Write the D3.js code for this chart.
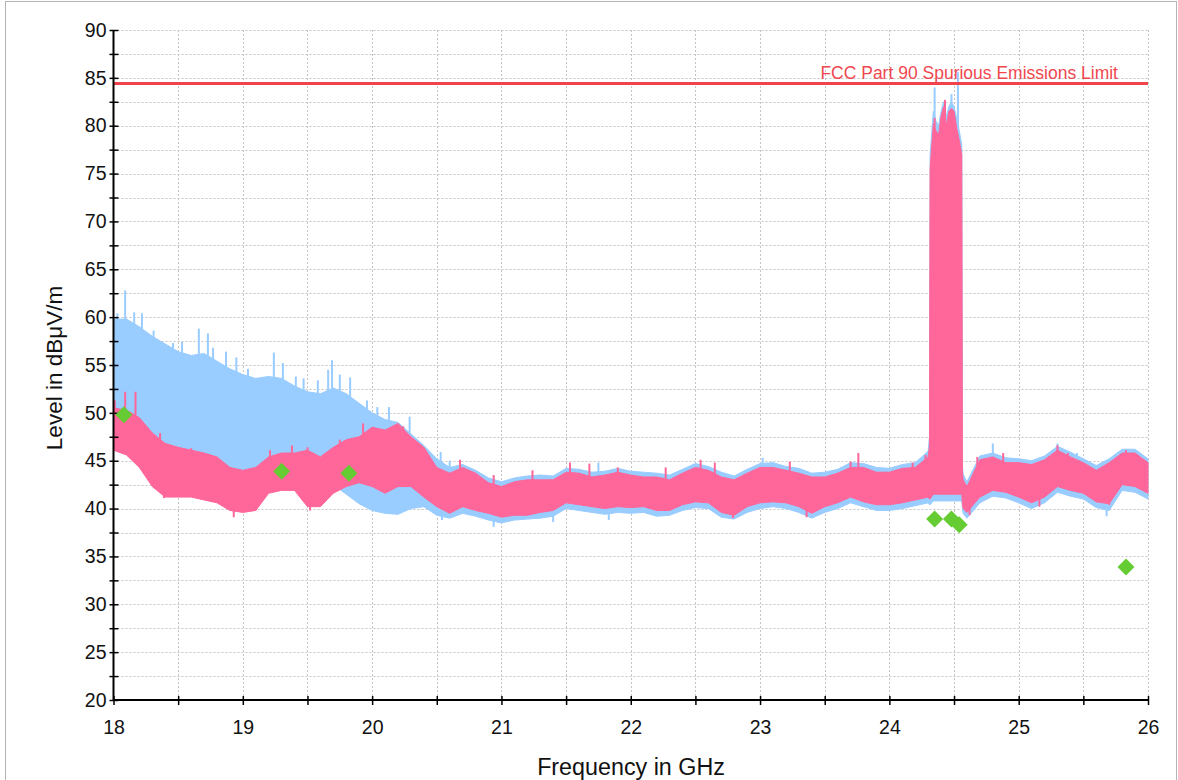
<!DOCTYPE html>
<html>
<head>
<meta charset="utf-8">
<script src="https://cdn.jsdelivr.net/npm/d3@7"></script>
<style>
  html, body { margin: 0; padding: 0; background: #fff; }
  svg { display: block; font-family: "Liberation Sans", Arial, sans-serif; }
</style>
</head>
<body>
<svg id="chart" width="1178" height="780"></svg>
<script>
// Scan frequencies (GHz); finer steps across the 24.3–24.6 GHz emission block
const freqs = [
  18.0, 18.1, 18.2, 18.3, 18.4, 18.5, 18.6, 18.7, 18.8, 18.9,
  19.0, 19.1, 19.2, 19.3, 19.4, 19.5, 19.6, 19.7, 19.8, 19.9,
  20.0, 20.1, 20.2, 20.3, 20.4, 20.5, 20.6, 20.7, 20.8, 20.9,
  21.0, 21.1, 21.2, 21.3, 21.4, 21.5, 21.6, 21.7, 21.8, 21.9,
  22.0, 22.1, 22.2, 22.3, 22.4, 22.5, 22.6, 22.7, 22.8, 22.9,
  23.0, 23.1, 23.2, 23.3, 23.4, 23.5, 23.6, 23.7, 23.8, 23.9,
  24.0, 24.1, 24.2, 24.3, 24.31, 24.315,
  24.34, 24.36, 24.38, 24.40, 24.42, 24.44, 24.46, 24.48, 24.50, 24.52, 24.54, 24.56,
  24.565, 24.57, 24.6, 24.7, 24.8, 24.9,
  25.0, 25.1, 25.2, 25.3, 25.4, 25.5, 25.6, 25.7, 25.8, 25.9,
  26.0
];

// Horizontal polarisation trace: lower / upper envelope (dBµV/m)
const horizHi = [
  59.8, 59.8, 59.0, 58.0, 57.2, 56.4, 56.0, 56.2, 55.4, 54.6,
  54.0, 53.6, 53.8, 53.6, 52.8, 52.2, 52.0, 52.6, 52.0, 51.0,
  50.0, 49.3, 49.0, 47.8, 46.6, 45.2, 44.3, 44.6, 44.0, 43.2,
  42.8, 43.2, 43.4, 43.5, 43.4, 44.2, 44.1, 43.8, 43.9, 44.2,
  43.9, 43.8, 43.7, 43.5, 44.1, 44.7, 44.4, 43.8, 43.4, 44.1,
  44.7, 44.8, 44.4, 44.2, 43.7, 43.8, 44.1, 44.8, 44.7, 44.3,
  44.2, 44.6, 44.8, 46.0, 47.5, 77.0,
  81.5, 80.5, 80.0, 81.5, 82.5, 81.0, 82.0, 82.5, 82.0, 80.8, 79.5, 78.0,
  44.5, 43.6, 42.8, 45.5, 45.8, 45.3,
  45.2, 45.0, 45.5, 46.5, 45.9, 45.2, 44.5, 45.2, 46.2, 46.2,
  45.2
];
const horizLo = [
  49.0, 48.0, 47.0, 46.0, 45.0, 44.5, 44.2, 44.0, 43.5, 43.0,
  42.8, 42.8, 43.5, 43.5, 43.5, 43.5, 43.0, 42.5, 41.5, 40.5,
  39.8, 39.5, 39.4, 40.0, 40.2, 39.3, 39.0, 39.5, 39.2, 38.8,
  38.5, 38.8, 38.9, 39.0, 39.2, 40.0, 39.8, 39.6, 39.4, 39.6,
  39.5, 39.6, 39.2, 39.3, 39.8, 40.1, 40.0, 39.1, 38.9, 39.6,
  40.0, 40.2, 40.0, 39.6, 39.0, 39.6, 40.0, 40.6, 40.2, 39.8,
  39.8, 40.0, 40.3, 40.6, 40.4, 40.4,
  40.8, 40.8, 40.8, 40.8, 40.8, 40.8, 40.8, 40.8, 40.8, 40.8, 40.8, 40.8,
  40.0, 39.5, 39.0, 40.6, 41.3, 41.1,
  40.6, 40.0, 40.6, 41.7, 41.3, 41.0, 40.1, 39.8, 41.9, 41.7,
  41.0
];

// Vertical polarisation trace: lower / upper envelope (dBµV/m)
const vertHi = [
  50.5, 50.3, 49.5, 47.9, 46.8, 46.4, 46.1, 45.8, 45.4, 44.3,
  44.0, 44.3, 45.4, 45.8, 45.8, 46.1, 45.4, 46.4, 47.2, 47.5,
  48.5, 48.2, 48.9, 47.5, 46.4, 44.3, 43.7, 44.3, 43.7, 42.7,
  42.3, 42.8, 43.0, 43.0, 43.0, 43.8, 43.7, 43.3, 43.5, 43.8,
  43.5, 43.3, 43.3, 43.0, 43.7, 44.3, 44.0, 43.3, 43.0, 43.7,
  44.3, 44.3, 44.0, 43.7, 43.3, 43.3, 43.7, 44.3, 44.3, 43.8,
  43.8, 44.2, 44.3, 45.4, 46.5, 75.5,
  80.2, 79.5, 79.0, 81.0, 82.0, 80.0, 81.5, 81.8, 81.5, 79.8, 78.5, 77.0,
  44.0, 43.0, 42.3, 45.1, 45.4, 44.8,
  44.8, 44.6, 45.1, 46.1, 45.4, 44.8, 44.0, 44.8, 45.8, 45.8,
  44.8
];
const vertLo = [
  46.1, 45.6, 44.3, 42.3, 41.2, 41.2, 41.2, 40.9, 40.6, 39.8,
  39.6, 39.8, 41.6, 41.9, 41.9, 40.2, 40.2, 41.6, 42.3, 42.7,
  42.3, 41.6, 42.3, 42.3, 41.2, 40.2, 39.5, 40.2, 39.8, 39.5,
  39.1, 39.3, 39.3, 39.6, 39.8, 40.6, 40.4, 40.2, 40.0, 40.2,
  40.1, 40.2, 39.8, 39.8, 40.4, 40.7, 40.6, 39.6, 39.3, 40.2,
  40.6, 40.7, 40.6, 40.2, 39.5, 40.2, 40.6, 41.2, 40.7, 40.4,
  40.4, 40.6, 40.9, 41.2, 41.0, 41.0,
  41.5, 41.5, 41.5, 41.5, 41.5, 41.5, 41.5, 41.5, 41.5, 41.5, 41.5, 41.5,
  40.5, 40.0, 39.6, 41.2, 41.9, 41.7,
  41.2, 40.6, 41.2, 42.3, 41.9, 41.6, 40.7, 40.5, 42.5, 42.3,
  41.6
];

// Isolated peaks and dips that stand out of each trace's envelope
const horizPeakFreq  = [18.03, 18.09, 18.16, 18.22, 18.31, 18.46, 18.53, 18.66, 18.73, 18.77,
                        18.87, 18.95, 19.04, 19.24, 19.31, 19.41, 19.47, 19.58, 19.66, 19.69,
                        19.75, 19.83, 19.96, 20.04, 20.13, 20.29, 20.53, 20.60, 21.75, 23.02,
                        24.35, 24.48, 24.53, 24.80, 25.30, 25.45];
const horizPeakLevel = [60.4, 62.8, 60.5, 60.4, 58.6, 57.3, 57.4, 58.8, 58.3, 56.8,
                        56.4, 55.8, 54.6, 56.3, 55.2, 53.8, 53.6, 53.4, 54.5, 55.5,
                        54.0, 53.7, 51.3, 50.6, 50.6, 49.6, 45.9, 45.0, 44.8, 45.3,
                        84.0, 83.3, 85.6, 46.8, 46.8, 45.8];
const horizDipFreq   = [20.54, 20.94, 21.40, 21.83, 25.68];
const horizDipLevel  = [38.8, 38.1, 38.6, 38.8, 39.2];

const vertPeakFreq   = [18.01, 18.09, 18.17, 18.36, 18.60, 19.21, 19.38, 19.50, 19.75, 19.89,
                        19.93, 20.24, 20.68, 20.94, 21.24, 21.53, 21.68, 21.90, 22.27, 22.54,
                        22.65, 23.23, 23.70, 23.76, 24.18, 24.28, 24.35, 24.43, 24.68, 24.88,
                        25.30, 25.38, 25.83, 25.88];
const vertPeakLevel  = [51.3, 52.2, 52.2, 47.9, 46.3, 46.1, 46.6, 46.4, 47.2, 47.0,
                        48.9, 48.6, 45.1, 43.5, 44.0, 44.8, 44.7, 44.3, 44.3, 45.1,
                        44.8, 44.9, 44.9, 45.8, 44.8, 45.6, 80.8, 82.7, 45.4, 45.8,
                        46.6, 45.8, 46.1, 45.8];
const vertDipFreq    = [18.39, 18.93, 19.10, 19.52, 22.79, 23.36, 24.62, 25.16, 25.70];
const vertDipLevel   = [41.1, 39.1, 39.8, 39.8, 39.0, 39.1, 39.3, 40.2, 40.4];

// Final measurement points
const finalFreq  = [18.08, 19.30, 19.82, 24.35, 24.48, 24.54, 25.83];
const finalLevel = [49.8, 43.9, 43.7, 38.9, 38.9, 38.3, 33.9];

// Regulatory limit
const limitLevel = 84.4;
const limitLabel = "FCC Part 90 Spurious Emissions Limit";

// Axis ticks
const xMajorTicks = [18, 19, 20, 21, 22, 23, 24, 25, 26];
const xMinorTicks = [18.5, 19.5, 20.5, 21.5, 22.5, 23.5, 24.5, 25.5];
const yMajorTicks = [20, 25, 30, 35, 40, 45, 50, 55, 60, 65, 70, 75, 80, 85, 90];
const yMinorTicks = [22.5, 27.5, 32.5, 37.5, 42.5, 47.5, 52.5, 57.5, 62.5, 67.5, 72.5, 77.5, 82.5, 87.5];

const xTitle = "Frequency in GHz";
const yTitle = "Level in dBμV/m";

// ---------------------------------------------------------------------------
const svg = d3.select("#chart");
const plotLeft = 113.5, plotRight = 1148, plotTop = 30, plotBottom = 700;

const x = d3.scaleLinear().domain([18, 26]).range([plotLeft, plotRight]);
const y = d3.scaleLinear().domain([20, 90]).range([plotBottom, plotTop]);

// Outer frame
svg.append("rect")
  .attr("x", 5.5).attr("y", 1.5)
  .attr("width", 1171).attr("height", 800)
  .attr("fill", "none").attr("stroke", "#b4b4b4").attr("stroke-width", 1);

// Dotted grid
const gridColor = "#c4c4c4";
const allX = xMajorTicks.concat(xMinorTicks).filter(v => v > 18);
const allY = yMajorTicks.concat(yMinorTicks).filter(v => v > 20);
svg.append("g").selectAll("line").data(allX).join("line")
  .attr("x1", d => Math.round(x(d)) + 0.5).attr("x2", d => Math.round(x(d)) + 0.5)
  .attr("y1", plotTop).attr("y2", plotBottom)
  .attr("stroke", gridColor).attr("stroke-dasharray", "2,2");
svg.append("g").selectAll("line").data(allY).join("line")
  .attr("x1", plotLeft).attr("x2", plotRight)
  .attr("y1", d => Math.round(y(d)) + 0.5).attr("y2", d => Math.round(y(d)) + 0.5)
  .attr("stroke", gridColor).attr("stroke-dasharray", "2,2");

// Helpers for the traces
const rows = (lo, hi) => freqs.map((f, i) => ({ f, lo: lo[i], hi: hi[i] }));
const band = d3.area().x(d => x(d.f)).y0(d => y(d.lo)).y1(d => y(d.hi));
const envelopeAt = (lo, hi, f) => {
  const i = Math.min(freqs.length - 1, Math.max(1, d3.bisectLeft(freqs, f)));
  const t = (f - freqs[i - 1]) / (freqs[i] - freqs[i - 1]);
  return { lo: lo[i - 1] + t * (lo[i] - lo[i - 1]), hi: hi[i - 1] + t * (hi[i] - hi[i - 1]) };
};

function drawTrace(lo, hi, peakF, peakL, dipF, dipL, color) {
  const g = svg.append("g");
  g.append("path").datum(rows(lo, hi)).attr("d", band)
    .attr("fill", color).attr("stroke", color).attr("stroke-width", 1);
  g.selectAll("line.pk").data(peakF.map((f, i) => ({ f, v: peakL[i] }))).join("line")
    .attr("class", "pk")
    .attr("x1", d => x(d.f)).attr("x2", d => x(d.f))
    .attr("y1", d => y(d.v)).attr("y2", d => y(envelopeAt(lo, hi, d.f).hi) + 4)
    .attr("stroke", color).attr("stroke-width", 2);
  g.selectAll("line.dp").data(dipF.map((f, i) => ({ f, v: dipL[i] }))).join("line")
    .attr("class", "dp")
    .attr("x1", d => x(d.f)).attr("x2", d => x(d.f))
    .attr("y1", d => y(d.v)).attr("y2", d => y(envelopeAt(lo, hi, d.f).lo) - 4)
    .attr("stroke", color).attr("stroke-width", 2);
}

drawTrace(horizLo, horizHi, horizPeakFreq, horizPeakLevel, horizDipFreq, horizDipLevel, "#99ccff");
drawTrace(vertLo, vertHi, vertPeakFreq, vertPeakLevel, vertDipFreq, vertDipLevel, "#ff6699");

// Limit line and its label
svg.append("line")
  .attr("x1", plotLeft).attr("x2", plotRight)
  .attr("y1", y(limitLevel)).attr("y2", y(limitLevel))
  .attr("stroke", "#f0434b").attr("stroke-width", 3);
svg.append("text")
  .attr("x", 1118).attr("y", y(limitLevel) - 5)
  .attr("text-anchor", "end")
  .attr("font-size", 17.5).attr("fill", "#f0474f")
  .text(limitLabel);

// Axes
const yAxis = d3.axisLeft(y).tickValues(yMajorTicks.concat(yMinorTicks)).tickSize(4)
  .tickFormat(d => (d % 5 === 0 ? d : ""));
const gy = svg.append("g").attr("transform", `translate(${plotLeft},0)`).call(yAxis);
gy.select(".domain").attr("stroke", "#000").attr("stroke-width", 2).attr("d", `M0,${plotTop}V${plotBottom}`);
gy.selectAll(".tick line").attr("x1", 5).attr("x2", -4).attr("stroke", "#000").attr("stroke-width", 1.5);
gy.selectAll(".tick text").attr("x", -7).attr("font-size", 19.5).attr("fill", "#111")
  .attr("font-family", "Liberation Sans, Arial, sans-serif");

const xAxis = d3.axisBottom(x).tickValues(xMajorTicks.concat(xMinorTicks)).tickSize(5)
  .tickFormat(d => (Number.isInteger(d) ? d : ""));
const gx = svg.append("g").attr("transform", `translate(0,${plotBottom})`).call(xAxis);
gx.select(".domain").attr("stroke", "#000").attr("stroke-width", 2).attr("d", `M${plotLeft},0H${plotRight}`);
gx.selectAll(".tick line").attr("y1", -4).attr("y2", 5).attr("stroke", "#000").attr("stroke-width", 1.5);
gx.selectAll(".tick text").attr("y", 20).attr("font-size", 19.5).attr("fill", "#111")
  .attr("font-family", "Liberation Sans, Arial, sans-serif");

// Axis titles
svg.append("text")
  .attr("x", 631).attr("y", 775)
  .attr("text-anchor", "middle").attr("font-size", 23.3).attr("fill", "#111")
  .text(xTitle);
svg.append("text")
  .attr("transform", "translate(62,368) rotate(-90)")
  .attr("text-anchor", "middle").attr("font-size", 22.5).attr("fill", "#111")
  .text(yTitle);

// Final measurement markers (diamonds)
const diamond = "M0,-8.5L8.5,0L0,8.5L-8.5,0Z";
svg.append("g").selectAll("path").data(finalFreq.map((f, i) => ({ f, v: finalLevel[i] }))).join("path")
  .attr("d", diamond)
  .attr("transform", d => `translate(${x(d.f)},${y(d.v)})`)
  .attr("fill", "#66cc33");
</script>
</body>
</html>
